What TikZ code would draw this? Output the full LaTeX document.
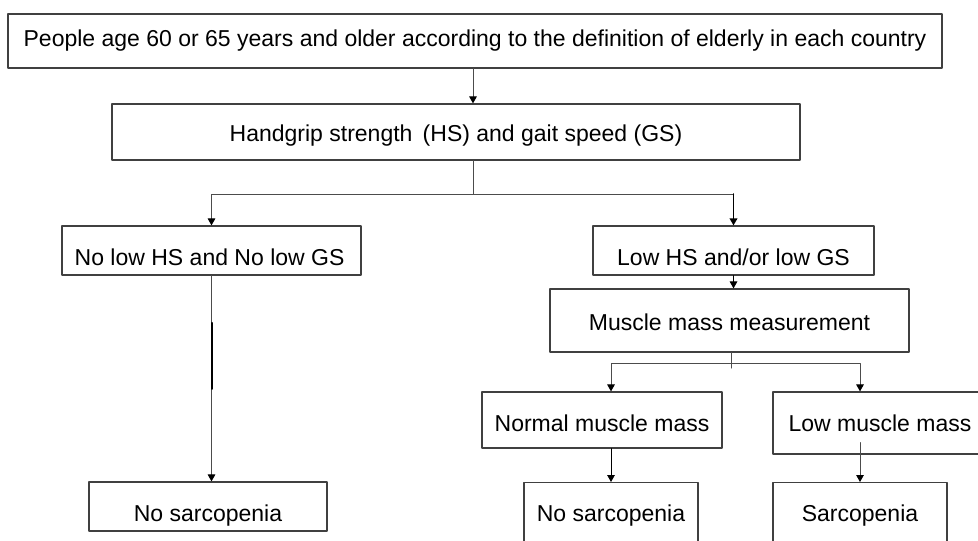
\documentclass[tikz,border=0pt]{standalone}
\usepackage{fontspec}
\setmainfont{Liberation Sans}
\usetikzlibrary{arrows.meta,calc}

\definecolor{boxgray}{gray}{0.25}
\definecolor{linegray}{gray}{0.3}

\begin{document}
\begin{tikzpicture}[x=0.5pt, y=-0.5pt, line cap=round, line join=round,
  box/.style={draw=boxgray, line width=0.6pt, inner sep=0pt,
    font=\fontsize{11.5pt}{14pt}\selectfont},
  sunk/.style={text depth=0pt, text height=#1},
  cutbox/.style={box, anchor=north, text height=19.5pt, text depth=25pt},
  link/.style={draw=linegray, line width=0.5pt},
  arr/.style={link, -{Triangle[length=3.5pt, width=3.8pt, color=black]}}]

% --- Frame (the image cuts the lowest boxes) ---
\useasboundingbox (0,0) rectangle (978,540);
\clip (0,0) rectangle (978,540);

% --- Boxes ---
\node[box, minimum width=467pt, minimum height=27pt] (elderly) at (475,41)
  {People age 60 or 65 years and older according to the definition of elderly in each country};
\node[box, sunk=9.2pt, minimum width=344pt, minimum height=28pt] (hsgs) at (456,132)
  {Handgrip strength \,(HS) and gait speed (GS)};
\node[box, sunk=15.2pt, minimum width=149.5pt, minimum height=24.5pt] (normalfn) at (211.5,250.5)
  {No low HS and No low GS\,};
\node[box, sunk=15.2pt, minimum width=140.5pt, minimum height=24.5pt] (lowfn) at (733.5,250.5)
  {Low HS and/or low GS};
\node[box, sunk=9.7pt, minimum width=179.5pt, minimum height=31.5pt] (mass) at (729.5,320.5)
  {Muscle mass measurement};
\node[box, sunk=11.2pt, minimum width=120pt, minimum height=28pt] (normalmm) at (602,420)
  {Normal muscle mass};
\node[box, minimum width=107pt, minimum height=31pt] (lowmm) at (880,423)
  {Low muscle mass};
\node[box, sunk=14.7pt, minimum width=119pt, minimum height=24.5pt] (nosarcA) at (208,506.5)
  {No sarcopenia};
\node[cutbox, minimum width=87pt] (nosarcB) at (611,482) {No sarcopenia};
\node[cutbox, minimum width=87pt] (sarc) at (860,482) {Sarcopenia};

% --- Branch points ---
\coordinate (split) at (473,194);
\coordinate (splitmm) at (731,363);

% --- Connectors ---
\draw[arr] (elderly.south -| split) -- (hsgs.north -| split);
\draw[link] (hsgs.south -| split) -- (split);
\draw[arr] (split) -| (normalfn.north);
\draw[link] (split) -- (split -| lowfn.north);
\draw[arr, draw=black, line width=0.8pt] (split -| lowfn.north) -- (lowfn.north);
\draw[arr, draw=black] (lowfn.south) -- (mass.north -| lowfn.south);

\draw[link] (mass.south -| splitmm) -- ($(splitmm)+(0,-2.5pt)$);
\draw[arr] (splitmm) -| (normalmm.north -| nosarcB.north);
\draw[arr] (splitmm) -| (lowmm.north -| sarc.north);
\draw[arr, draw=black] (normalmm.south -| nosarcB.north) -- (nosarcB.north);
\draw[arr] ($(lowmm.south -| sarc.north)+(0,6pt)$) -- (sarc.north);

\draw[arr] (normalfn.south) -- (nosarcA.north -| normalfn.south);
\draw[draw=black, line width=1pt]
  ($(normalfn.south)!0.23!(nosarcA.north -| normalfn.south)$)
  -- ($(normalfn.south)!0.55!(nosarcA.north -| normalfn.south)$);

\end{tikzpicture}
\end{document}
